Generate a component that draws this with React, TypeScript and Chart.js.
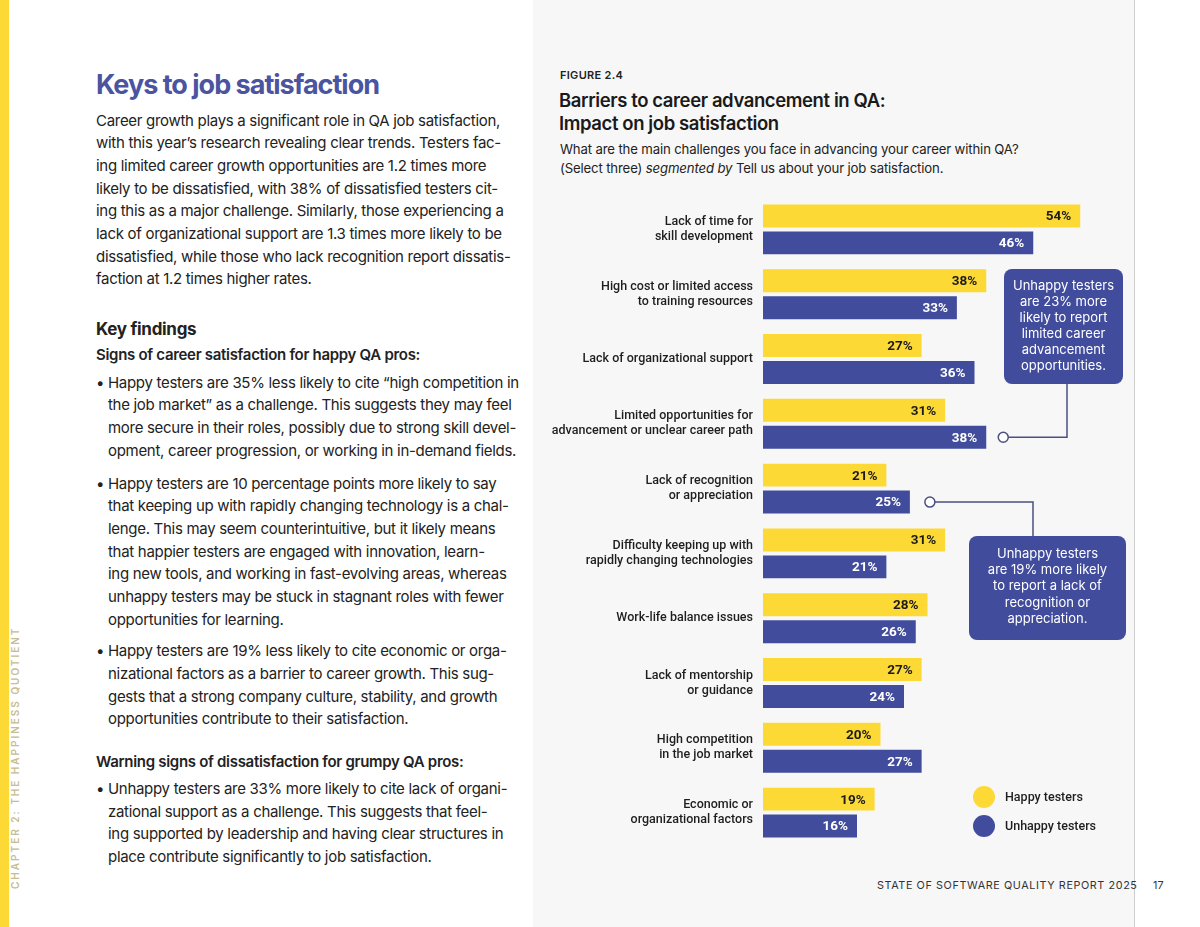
import React, { useEffect, useRef } from "react";
import { Chart, registerables } from "chart.js";

Chart.register(...registerables);

const categories: string[][] = [
  ["Lack of time for", "skill development"],
  ["High cost or limited access", "to training resources"],
  ["Lack of organizational support"],
  ["Limited opportunities for", "advancement or unclear career path"],
  ["Lack of recognition", "or appreciation"],
  ["Difficulty keeping up with", "rapidly changing technologies"],
  ["Work-life balance issues"],
  ["Lack of mentorship", "or guidance"],
  ["High competition", "in the job market"],
  ["Economic or", "organizational factors"],
];
const happyValues = [54, 38, 27, 31, 21, 31, 28, 27, 20, 19];
const unhappyValues = [46, 33, 36, 38, 25, 21, 26, 24, 27, 16];
const seriesNames = ["Happy testers", "Unhappy testers"];

const callout1 = [
  "Unhappy testers",
  "are 23% more",
  "likely to report",
  "limited career",
  "advancement",
  "opportunities.",
];
const callout2 = [
  "Unhappy testers",
  "are 19% more likely",
  "to report a lack of",
  "recognition or",
  "appreciation.",
];

const YELLOW = "#FDD935";
const BLUE = "#414C9C";
const LINE = "#4A5080";

const para1 = [
  "Career growth plays a significant role in QA job satisfaction,",
  "with this year’s research revealing clear trends. Testers fac-",
  "ing limited career growth opportunities are 1.2 times more",
  "likely to be dissatisfied, with 38% of dissatisfied testers cit-",
  "ing this as a major challenge. Similarly, those experiencing a",
  "lack of organizational support are 1.3 times more likely to be",
  "dissatisfied, while those who lack recognition report dissatis-",
  "faction at 1.2 times higher rates.",
];
const bullet1 = [
  "Happy testers are 35% less likely to cite “high competition in",
  "the job market” as a challenge. This suggests they may feel",
  "more secure in their roles, possibly due to strong skill devel-",
  "opment, career progression, or working in in-demand fields.",
];
const bullet2 = [
  "Happy testers are 10 percentage points more likely to say",
  "that keeping up with rapidly changing technology is a chal-",
  "lenge. This may seem counterintuitive, but it likely means",
  "that happier testers are engaged with innovation, learn-",
  "ing new tools, and working in fast-evolving areas, whereas",
  "unhappy testers may be stuck in stagnant roles with fewer",
  "opportunities for learning.",
];
const bullet3 = [
  "Happy testers are 19% less likely to cite economic or orga-",
  "nizational factors as a barrier to career growth. This sug-",
  "gests that a strong company culture, stability, and growth",
  "opportunities contribute to their satisfaction.",
];
const bullet4 = [
  "Unhappy testers are 33% more likely to cite lack of organi-",
  "zational support as a challenge. This suggests that feel-",
  "ing supported by leadership and having clear structures in",
  "place contribute significantly to job satisfaction.",
];

const LH = 22.7;

function Lines({ lines, top, left }: { lines: string[]; top: number; left: number }) {
  return (
    <div style={{ position: "absolute", top, left, whiteSpace: "nowrap" }}>
      {lines.map((l, i) => (
        <div key={i} style={{ height: LH, lineHeight: LH + "px" }}>{l}</div>
      ))}
    </div>
  );
}

function Bullet({ lines, center }: { lines: string[]; center: number }) {
  const top = center - LH / 2;
  return (
    <>
      <div style={{ position: "absolute", top, left: 96, lineHeight: LH + "px" }}>•</div>
      <Lines lines={lines} top={top} left={108} />
    </>
  );
}

const annotationPlugin = {
  id: "annotations",
  afterDatasetsDraw(chart: any) {
    const ctx = chart.ctx as CanvasRenderingContext2D;
    // value labels
    chart.data.datasets.forEach((ds: any, di: number) => {
      const meta = chart.getDatasetMeta(di);
      meta.data.forEach((el: any, i: number) => {
        ctx.save();
        ctx.font = "700 13.5px Roboto";
        ctx.fillStyle = di === 0 ? "#1b1b1b" : "#ffffff";
        ctx.textAlign = "right";
        ctx.textBaseline = "middle";
        ctx.fillText(ds.data[i] + "%", el.x - 9, el.y + 1);
        ctx.restore();
      });
    });

    const unhappyMeta = chart.getDatasetMeta(1);
    const b1 = unhappyMeta.data[3];
    const b2 = unhappyMeta.data[4];

    const drawBox = (x: number, y: number, w: number, h: number, lines: string[], firstY: number, lh: number) => {
      ctx.save();
      ctx.fillStyle = BLUE;
      ctx.beginPath();
      (ctx as any).roundRect(x, y, w, h, 8);
      ctx.fill();
      ctx.fillStyle = "#ffffff";
      ctx.font = "400 13px Inter";
      ctx.textAlign = "center";
      ctx.textBaseline = "middle";
      lines.forEach((l, i) => ctx.fillText(l, x + w / 2, firstY + i * lh));
      ctx.restore();
    };
    const circle = (x: number, y: number) => {
      ctx.save();
      ctx.beginPath();
      ctx.arc(x, y, 5, 0, Math.PI * 2);
      ctx.fillStyle = "#ffffff";
      ctx.fill();
      ctx.lineWidth = 1.5;
      ctx.strokeStyle = LINE;
      ctx.stroke();
      ctx.restore();
    };
    const path = (pts: number[][]) => {
      ctx.save();
      ctx.beginPath();
      ctx.moveTo(pts[0][0], pts[0][1]);
      for (let i = 1; i < pts.length; i++) ctx.lineTo(pts[i][0], pts[i][1]);
      ctx.lineWidth = 1.5;
      ctx.strokeStyle = LINE;
      ctx.stroke();
      ctx.restore();
    };

    // callout 1
    const c1x = b1.x + 17;
    const c1y = b1.y;
    path([[c1x + 5, c1y], [534, c1y], [534, 186]]);
    circle(c1x, c1y);
    drawBox(471, 72, 119, 115, callout1, 89, 16);

    // callout 2
    const c2x = b2.x + 20;
    const c2y = b2.y;
    path([[c2x + 5, c2y], [500, c2y], [500, 340]]);
    circle(c2x, c2y);
    drawBox(436, 339, 157, 104, callout2, 357, 16.2);

    // legend
    const colors = [YELLOW, BLUE];
    seriesNames.forEach((n, i) => {
      const cy = 600 + i * 29;
      ctx.save();
      ctx.beginPath();
      ctx.arc(451, cy, 11, 0, Math.PI * 2);
      ctx.fillStyle = colors[i];
      ctx.fill();
      ctx.fillStyle = "#1e1e1e";
      ctx.font = "500 12.5px Roboto";
      ctx.textAlign = "left";
      ctx.textBaseline = "middle";
      ctx.fillText(n, 472, cy + 1);
      ctx.restore();
    });
  },
};

function BarChart() {
  const ref = useRef<HTMLCanvasElement>(null);
  useEffect(() => {
    if (!ref.current) return;
    const chart = new Chart(ref.current, {
      type: "bar",
      data: {
        labels: categories,
        datasets: [
          { label: seriesNames[0], data: happyValues, backgroundColor: YELLOW, categoryPercentage: 0.831, barPercentage: 0.852 },
          { label: seriesNames[1], data: unhappyValues, backgroundColor: BLUE, categoryPercentage: 0.831, barPercentage: 0.852 },
        ],
      },
      options: {
        indexAxis: "y",
        animation: false,
        responsive: true,
        maintainAspectRatio: false,
        layout: { padding: { left: 0, right: 19.5, top: 0, bottom: 0 } },
        plugins: { legend: { display: false }, tooltip: { enabled: false } },
        scales: {
          x: { display: false, min: 0, max: 60 },
          y: {
            grid: { display: false, drawTicks: false },
            border: { display: false },
            ticks: {
              padding: 10,
              color: "#1e1e1e",
              font: { family: "Roboto", size: 12.5, weight: "500" as any, lineHeight: 1.2 },
            },
            afterFit(scale: any) {
              scale.width = 230;
              scale.paddingTop = 0;
              scale.paddingBottom = 0;
            },
          },
        },
      } as any,
      plugins: [annotationPlugin],
    });
    return () => chart.destroy();
  }, []);
  return (
    <div style={{ position: "absolute", left: 533, top: 197, width: 602, height: 648 }}>
      <canvas ref={ref} />
    </div>
  );
}

export default function App() {
  useEffect(() => {
    document.body.style.margin = "0";
  }, []);
  return (
    <div
      style={{
        position: "relative",
        width: 1200,
        height: 927,
        overflow: "hidden",
        background: "#ffffff",
        fontFamily: "Inter, 'Noto Sans', sans-serif",
        color: "#222222",
      }}
    >
      {/* yellow strip */}
      <div style={{ position: "absolute", left: 0, top: 0, width: 9, height: 927, background: YELLOW }} />
      {/* chapter label */}
      <div
        style={{
          position: "absolute",
          left: 9,
          top: 889,
          transformOrigin: "0 0",
          transform: "rotate(-90deg)",
          fontSize: 10,
          fontWeight: 600,
          letterSpacing: 2.0,
          color: "#C6BD90",
          whiteSpace: "nowrap",
          lineHeight: "12px",
        }}
      >
        CHAPTER 2: THE HAPPINESS QUOTIENT
      </div>

      {/* gray panel */}
      <div
        style={{
          position: "absolute",
          left: 533,
          top: 0,
          width: 601,
          height: 927,
          background: "#F7F7F7",
          borderRight: "1px solid #CFCFCF",
        }}
      />

      {/* left column */}
      <div
        style={{
          position: "absolute",
          left: 96,
          top: 68,
          fontSize: 27,
          fontWeight: 700,
          letterSpacing: -1.0,
          color: "#4A54A0",
          lineHeight: "34px",
          whiteSpace: "nowrap",
        }}
      >
        Keys to job satisfaction
      </div>
      <div style={{ fontSize: 15, letterSpacing: -0.3 }}>
        <Lines lines={para1} top={121 - LH / 2} left={96} />
        <div style={{ position: "absolute", left: 96, top: 317, fontSize: 17, fontWeight: 700, lineHeight: "24px" }}>
          Key findings
        </div>
        <div style={{ position: "absolute", left: 96, top: 355 - LH / 2, fontWeight: 600, lineHeight: LH + "px", whiteSpace: "nowrap" }}>
          Signs of career satisfaction for happy QA pros:
        </div>
        <Bullet lines={bullet1} center={383} />
        <Bullet lines={bullet2} center={484} />
        <Bullet lines={bullet3} center={651.7} />
        <div style={{ position: "absolute", left: 96, top: 762.3 - LH / 2, fontWeight: 600, lineHeight: LH + "px", whiteSpace: "nowrap" }}>
          Warning signs of dissatisfaction for grumpy QA pros:
        </div>
        <Bullet lines={bullet4} center={789.3} />
      </div>

      {/* figure header */}
      <div
        style={{
          position: "absolute",
          left: 560,
          top: 68,
          fontSize: 11,
          fontWeight: 600,
          letterSpacing: 0.3,
          lineHeight: "14px",
          color: "#222",
        }}
      >
        FIGURE 2.4
      </div>
      <div
        style={{
          position: "absolute",
          left: 559,
          top: 89,
          fontSize: 18.5,
          fontWeight: 600,
          letterSpacing: -0.4,
          lineHeight: "22.7px",
          color: "#1a1a1a",
          whiteSpace: "nowrap",
        }}
      >
        <div>Barriers to career advancement in QA:</div>
        <div>Impact on job satisfaction</div>
      </div>
      <div
        style={{
          position: "absolute",
          left: 560,
          top: 140,
          fontSize: 13.2,
          letterSpacing: -0.15,
          lineHeight: "19.4px",
          color: "#222",
          whiteSpace: "nowrap",
        }}
      >
        <div>What are the main challenges you face in advancing your career within QA?</div>
        <div>
          (Select three) <i>segmented by</i> Tell us about your job satisfaction.
        </div>
      </div>

      <BarChart />

      {/* footer */}
      <div
        style={{
          position: "absolute",
          left: 877,
          top: 879,
          fontSize: 10.8,
          letterSpacing: 0.6,
          lineHeight: "14px",
          color: "#333",
          whiteSpace: "nowrap",
        }}
      >
        STATE OF SOFTWARE QUALITY REPORT 2025
      </div>
      <div style={{ position: "absolute", left: 1153, top: 879, fontSize: 10.8, lineHeight: "14px", color: "#333" }}>17</div>
    </div>
  );
}
